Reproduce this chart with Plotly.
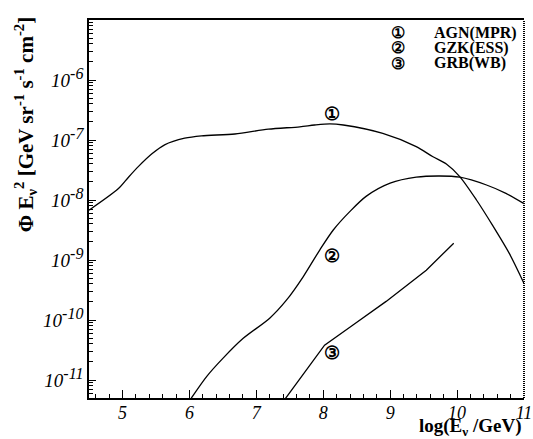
import plotly.graph_objects as go

# ---- data (x = log10(E/GeV), y = log10(flux)) ----
agn_x = [4.5, 4.94, 5.09, 5.24, 5.44, 5.63, 5.93, 6.18, 6.68, 7.18, 7.65, 7.87,
         8.1, 8.30, 8.89, 9.39, 9.64, 9.84, 10.04, 10.29, 10.54, 10.78, 11.0]
agn_logy = [-8.17, -7.81, -7.62, -7.44, -7.23, -7.08, -6.97, -6.93, -6.90, -6.82, -6.78, -6.75,
            -6.73, -6.75, -6.89, -7.11, -7.28, -7.40, -7.61, -8.0, -8.44, -8.89, -9.39]

gzk_x = [5.97, 6.03, 6.26, 6.50, 6.80, 7.20, 7.45, 7.70, 7.95, 8.15, 8.40, 8.64,
         9.0, 9.39, 9.74, 10.04, 10.44, 10.73, 11.0]
gzk_logy = [-11.4, -11.3, -10.94, -10.64, -10.31, -9.97, -9.67, -9.28, -8.83, -8.5, -8.19, -7.94,
            -7.72, -7.62, -7.60, -7.62, -7.75, -7.89, -8.06]

grb_x = [7.375, 7.44, 7.75, 8.02, 8.45, 8.94, 9.54, 9.95]
grb_logy = [-11.4, -11.3, -10.83, -10.42, -10.08, -9.69, -9.17, -8.72]

curve_labels = ["\u2460", "\u2461", "\u2462"]
curve_label_x = [8.13, 8.13, 8.13]
curve_label_logy = [-6.57, -8.93, -10.55]

legend_names = ["AGN(MPR)", "GZK(ESS)", "GRB(WB)"]

x_tickvals = [5, 6, 7, 8, 9, 10, 11]
x_ticktext = ["5", "6", "7", "8", "9", "10", "11"]
y_exps = [-11, -10, -9, -8, -7, -6]

SERIF = "Liberation Serif, DejaVu Serif, serif"

fig = go.Figure()
for xs, ly, shape in [(agn_x, agn_logy, "spline"), (gzk_x, gzk_logy, "spline"), (grb_x, grb_logy, "linear")]:
    fig.add_trace(go.Scatter(
        x=xs, y=[10 ** v for v in ly], mode="lines",
        line=dict(color="black", width=1.3, shape=shape, smoothing=0.8),
        showlegend=False, hoverinfo="skip"))

# circled labels on the curves
for t, x, ly in zip(curve_labels, curve_label_x, curve_label_logy):
    fig.add_annotation(x=x, y=ly, xref="x", yref="y", text="<b>%s</b>" % t, showarrow=False,
                       font=dict(family=SERIF, size=18, color="black"))

# legend-like text block
leg_y = [0.966, 0.926, 0.886]
for t, name, yy in zip(curve_labels, legend_names, leg_y):
    fig.add_annotation(x=0.710, y=yy, xref="paper", yref="paper", text="<b>%s</b>" % t,
                       showarrow=False, xanchor="center", yanchor="middle",
                       font=dict(family=SERIF, size=16, color="black"))
    fig.add_annotation(x=0.789, y=yy, xref="paper", yref="paper", text="<b>%s</b>" % name,
                       showarrow=False, xanchor="left", yanchor="middle",
                       font=dict(family=SERIF, size=16, color="black"))

# axis titles
fig.add_annotation(x=1.0, y=-0.077, xref="paper", yref="paper",
                   text="<b>log(E<sub>\u03bd</sub> /GeV)</b>", showarrow=False,
                   xanchor="right", yanchor="middle",
                   font=dict(family=SERIF, size=19, color="black"))
fig.add_annotation(x=-0.147, y=0.722, xref="paper", yref="paper",
                   text="<b>\u03a6 E<sub>\u03bd</sub><sup>2</sup> [GeV sr<sup>-1</sup> s<sup>-1</sup> cm<sup>-2</sup>]</b>",
                   showarrow=False, textangle=-90, xanchor="center", yanchor="middle",
                   font=dict(family=SERIF, size=21, color="black"))

# right frame edge drawn as a fine dotted line, as in the reference
fig.add_shape(type="line", xref="paper", yref="paper", x0=1, x1=1, y0=0, y1=1,
              line=dict(color="black", width=2, dash="1px,1px"))

y_minor = [m * 10.0 ** e for e in range(-12, -5) for m in range(2, 10)]

fig.update_xaxes(range=[4.5, 11], tickmode="array", tickvals=x_tickvals,
                 ticktext=["<i>%s</i>" % t for t in x_ticktext],
                 ticks="inside", ticklen=8, tickwidth=1, tickcolor="black",
                 minor=dict(ticks="inside", ticklen=4, dtick=0.2, tick0=5, tickcolor="black"),
                 showline=True, linecolor="black", linewidth=1.5, mirror=True,
                 showgrid=False, zeroline=False, automargin=False, ticklabelstandoff=-2,
                 tickfont=dict(family=SERIF, size=18, color="black"))
fig.update_yaxes(type="log", range=[-11.3, -5], tickmode="array",
                 tickvals=[10.0 ** e for e in y_exps],
                 ticktext=["<i>10</i><sup><i><span style='font-size:16px'>%d</span></i></sup>" % e
                           for e in y_exps],
                 ticks="inside", ticklen=7, tickwidth=1, tickcolor="black",
                 minor=dict(ticks="inside", ticklen=4, tickmode="array", tickvals=y_minor,
                            tickcolor="black"),
                 showline=True, linecolor="black", linewidth=1.5, mirror=False,
                 showgrid=False, zeroline=False, automargin=False,
                 tickfont=dict(family=SERIF, size=19, color="black"))

fig.update_layout(width=533, height=439, margin=dict(l=89, r=9, t=20, b=41, autoexpand=False),
                  plot_bgcolor="white", paper_bgcolor="white", showlegend=False)

fig.write_html("out.html",
               config={"displayModeBar": False, "responsive": False},
               post_script="document.body.style.margin='0';document.body.style.padding='0';"
                           "document.body.style.overflow='hidden';"
                           "document.documentElement.style.overflow='hidden';")
